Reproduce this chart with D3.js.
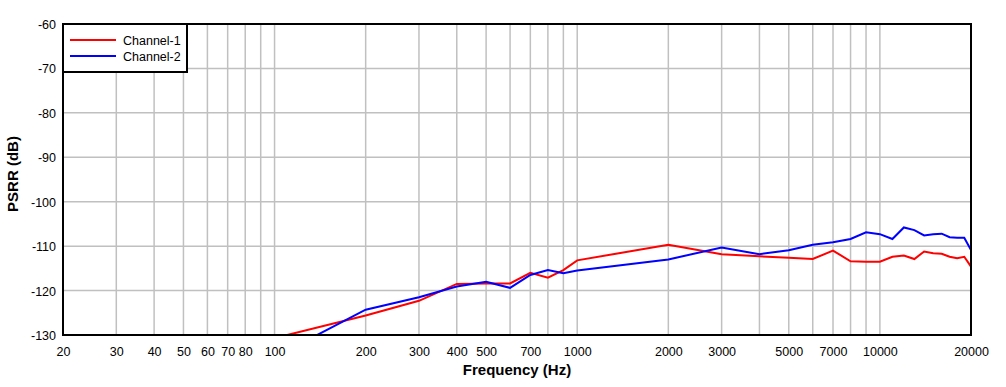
<!DOCTYPE html>
<html><head><meta charset="utf-8">
<script src="https://cdn.jsdelivr.net/npm/d3@7"></script>
<style>
html,body{margin:0;padding:0;background:#fff;}
svg{display:block;font-family:"Liberation Sans",Arial,sans-serif;}
</style></head>
<body><svg id="chart" width="1006" height="387"></svg>
<script>
const freqs = [100,200,300,400,500,600,700,800,900,1000,2000,3000,4000,5000,6000,7000,8000,9000,10000,11000,12000,13000,14000,15000,16000,17000,18000,19000,20000];
const channel1 = [-130.7,-125.6,-122.3,-118.5,-118.4,-118.4,-116.0,-117.1,-115.4,-113.2,-109.7,-111.8,-112.3,-112.6,-112.9,-111.0,-113.4,-113.5,-113.5,-112.4,-112.1,-112.9,-111.2,-111.6,-111.7,-112.4,-112.7,-112.4,-114.6];
const channel2 = [-135.0,-124.3,-121.5,-119.1,-118.0,-119.4,-116.5,-115.4,-116.1,-115.5,-113.0,-110.3,-111.8,-110.9,-109.7,-109.1,-108.4,-106.9,-107.3,-108.4,-105.8,-106.4,-107.6,-107.3,-107.2,-108.0,-108.1,-108.1,-110.9];
const seriesNames = ["Channel-1","Channel-2"];
const seriesColors = ["#ff0000","#0000ff"];
const xTickLabels = [20,30,40,50,60,70,80,100,200,300,400,500,700,1000,2000,3000,5000,7000,10000,20000];
const xGrid = [30,40,50,60,70,80,90,100,200,300,400,500,600,700,800,900,1000,2000,3000,4000,5000,6000,7000,8000,9000,10000];
const yTicks = [-60,-70,-80,-90,-100,-110,-120,-130];

const svg = d3.select("#chart");
const L=63, R=971, T=24, B=335;
const x = d3.scaleLog().domain([20,20000]).range([L,R]);
const y = d3.scaleLinear().domain([-130,-60]).range([B,T]);

// grid
svg.append("g").selectAll("line").data(xGrid).join("line")
  .attr("x1",d=>x(d)).attr("x2",d=>x(d)).attr("y1",T).attr("y2",B)
  .attr("stroke","#c0c0c0").attr("stroke-width",1.5);
svg.append("g").selectAll("line").data(yTicks.filter(v=>v>-130&&v<-60)).join("line")
  .attr("x1",L).attr("x2",R).attr("y1",d=>y(d)).attr("y2",d=>y(d))
  .attr("stroke","#c0c0c0").attr("stroke-width",1.5);

// clip
svg.append("clipPath").attr("id","clip").append("rect")
  .attr("x",L).attr("y",T).attr("width",R-L).attr("height",B-T);

const line = d3.line().x(d=>x(d[0])).y(d=>y(d[1]));
[channel1,channel2].forEach((s,i)=>{
  svg.append("path").attr("clip-path","url(#clip)")
    .datum(freqs.map((f,j)=>[f,s[j]]))
    .attr("d",line).attr("fill","none")
    .attr("stroke",seriesColors[i]).attr("stroke-width",2);
});

// border
svg.append("rect").attr("x",L).attr("y",T).attr("width",R-L).attr("height",B-T)
  .attr("fill","none").attr("stroke","#000").attr("stroke-width",2);

// axes labels
const xAxis = d3.axisBottom(x).tickValues(xTickLabels).tickFormat(d=>String(d)).tickSize(0).tickPadding(0);
const gx = svg.append("g").attr("transform",`translate(0,${B})`).call(xAxis);
gx.select(".domain").remove();
gx.selectAll("text").attr("dy",null).attr("y",21).attr("font-size",12.5).attr("fill","#000")
  .attr("font-family","'Liberation Sans',Arial,sans-serif");

const yAxis = d3.axisLeft(y).tickValues(yTicks).tickFormat(d=>String(d)).tickSize(0).tickPadding(0);
const gy = svg.append("g").attr("transform",`translate(${L},0)`).call(yAxis);
gy.select(".domain").remove();
gy.selectAll("text").attr("x",-7).attr("dy","0.36em").attr("font-size",12.5).attr("fill","#000")
  .attr("font-family","'Liberation Sans',Arial,sans-serif");

svg.append("text").attr("x",(L+R)/2).attr("y",375).attr("text-anchor","middle")
  .attr("font-size",15).attr("font-weight","bold").text("Frequency (Hz)");
svg.append("text").attr("transform",`translate(18,174) rotate(-90)`).attr("text-anchor","middle")
  .attr("font-size",15).attr("font-weight","bold").text("PSRR (dB)");

// legend
const lg = svg.append("g");
lg.append("rect").attr("x",L).attr("y",T).attr("width",124).attr("height",48)
  .attr("fill","#fff").attr("stroke","#000").attr("stroke-width",2);
seriesNames.forEach((n,i)=>{
  const yy = 40 + i*16;
  lg.append("line").attr("x1",70).attr("x2",116).attr("y1",yy).attr("y2",yy)
    .attr("stroke",seriesColors[i]).attr("stroke-width",2);
  lg.append("text").attr("x",123).attr("y",yy).attr("dy","0.36em").attr("font-size",12.5).text(n);
});
</script></body></html>
